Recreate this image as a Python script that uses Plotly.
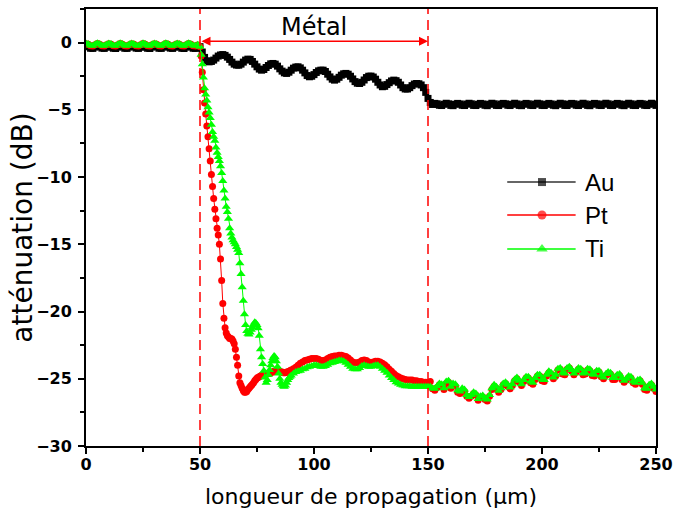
import plotly.graph_objects as go

# ---------------- data ----------------
series_names = ["Au", "Pt", "Ti"]
series_colors = ["#000000", "#ff0000", "#00ff00"]
series_symbols = ["square", "circle", "triangle-up"]

metal_start = 50
metal_end = 150
metal_label = "Métal"

# sampling grids (µm)
x_au = list(range(0, 251))
x_pt_ti = list(range(0, 50)) + [k / 2 for k in range(100, 180)] + list(range(90, 251))

au_0_49 = [-0.26, -0.31, -0.42, -0.43, -0.33, -0.25, -0.30, -0.41, -0.43, -0.34,
           -0.26, -0.30, -0.42, -0.44, -0.33, -0.25, -0.31, -0.42, -0.43, -0.33,
           -0.26, -0.30, -0.41, -0.43, -0.34, -0.25, -0.31, -0.42, -0.44, -0.33,
           -0.26, -0.30, -0.42, -0.43, -0.33, -0.25, -0.31, -0.41, -0.43, -0.34,
           -0.26, -0.30, -0.42, -0.44, -0.33, -0.25, -0.31, -0.42, -0.43, -0.35]
au_50_152 = [-0.30, -0.70, -1.10, -1.35, -1.43, -1.40, -1.30, -1.15, -1.00, -0.92,
             -0.89, -0.95, -1.08, -1.25, -1.45, -1.60, -1.67, -1.68, -1.60, -1.45,
             -1.30, -1.23, -1.25, -1.40, -1.60, -1.80, -1.97, -2.05, -2.00, -1.85,
             -1.70, -1.58, -1.55, -1.60, -1.75, -1.95, -2.12, -2.25, -2.29, -2.20,
             -2.05, -1.90, -1.82, -1.80, -1.88, -2.05, -2.25, -2.45, -2.54, -2.50,
             -2.38, -2.22, -2.10, -2.05, -2.05, -2.15, -2.35, -2.55, -2.72, -2.79,
             -2.72, -2.58, -2.42, -2.32, -2.29, -2.35, -2.50, -2.70, -2.90, -3.02,
             -3.04, -2.95, -2.78, -2.60, -2.50, -2.49, -2.56, -2.72, -2.95, -3.15,
             -3.28, -3.25, -3.12, -2.98, -2.85, -2.79, -2.83, -2.95, -3.15, -3.35,
             -3.45, -3.45, -3.35, -3.20, -3.08, -3.04, -3.06, -3.15, -3.35, -3.70,
             -4.15, -4.45, -4.60]
au_153_250 = [-4.52, -4.55, -4.66, -4.68, -4.58, -4.51, -4.55, -4.67, -4.69, -4.58,
              -4.52, -4.56, -4.66, -4.68, -4.57, -4.51, -4.55, -4.67, -4.68, -4.58,
              -4.52, -4.56, -4.66, -4.69, -4.58, -4.51, -4.55, -4.67, -4.68, -4.57,
              -4.52, -4.55, -4.66, -4.68, -4.58, -4.51, -4.56, -4.67, -4.69, -4.58,
              -4.52, -4.55, -4.66, -4.68, -4.57, -4.51, -4.55, -4.67, -4.68, -4.58,
              -4.52, -4.56, -4.66, -4.69, -4.58, -4.51, -4.55, -4.67, -4.68, -4.57,
              -4.52, -4.55, -4.66, -4.68, -4.58, -4.51, -4.56, -4.67, -4.69, -4.58,
              -4.52, -4.55, -4.66, -4.68, -4.57, -4.51, -4.55, -4.67, -4.68, -4.58,
              -4.52, -4.56, -4.66, -4.69, -4.58, -4.51, -4.55, -4.67, -4.68, -4.57,
              -4.52, -4.55, -4.66, -4.68, -4.58, -4.51, -4.56, -4.67]

pt_0_49 = [-0.08, -0.13, -0.23, -0.25, -0.15, -0.07, -0.12, -0.24, -0.25, -0.16,
           -0.08, -0.12, -0.23, -0.25, -0.15, -0.07, -0.13, -0.24, -0.25, -0.15,
           -0.08, -0.12, -0.23, -0.25, -0.16, -0.07, -0.13, -0.24, -0.26, -0.15,
           -0.08, -0.12, -0.23, -0.25, -0.15, -0.07, -0.13, -0.23, -0.25, -0.16,
           -0.08, -0.12, -0.24, -0.25, -0.15, -0.07, -0.13, -0.23, -0.25, -0.17]
pt_50_89 = [-0.30, -1.00, -2.20, -3.50, -4.50, -5.30, -6.20, -7.00, -7.90, -8.80,
            -9.80, -10.70, -11.60, -12.40, -13.10, -13.80, -14.30, -15.00, -16.10, -17.70,
            -19.40, -20.50, -21.20, -21.60, -21.80, -21.90, -22.00, -22.00, -22.05, -22.20,
            -22.40, -22.80, -23.40, -24.00, -24.80, -25.30, -25.50, -25.70, -25.90, -26.00,
            -26.00, -25.95, -25.80, -25.70, -25.60, -25.50, -25.40, -25.30, -25.15, -25.05,
            -24.95, -24.90, -24.85, -24.80, -24.75, -24.70, -24.70, -24.65, -24.65, -24.60,
            -24.60, -24.60, -24.55, -24.50, -24.50, -24.45, -24.40, -24.40, -24.40, -24.40,
            -24.45, -24.50, -24.50, -24.55, -24.55, -24.55, -24.50, -24.50, -24.45, -24.40]
pt_90_150 = [-24.35, -24.25, -24.15, -24.00, -23.85, -23.75, -23.65, -23.60, -23.55, -23.50,
             -23.50, -23.50, -23.55, -23.65, -23.65, -23.60, -23.50, -23.40, -23.35, -23.30,
             -23.30, -23.25, -23.25, -23.30, -23.35, -23.45, -23.60, -23.75, -23.80, -23.80,
             -23.75, -23.65, -23.60, -23.65, -23.75, -23.80, -23.75, -23.70, -23.70, -23.75,
             -23.85, -23.95, -24.10, -24.30, -24.45, -24.60, -24.75, -24.85, -24.95, -25.00,
             -25.05, -25.10, -25.10, -25.10, -25.15, -25.15, -25.20, -25.20, -25.25, -25.25,
             -25.30]
pt_151_250 = [-25.20, -25.75, -25.85, -25.65, -25.45, -25.50, -25.80, -25.35, -25.25, -25.70,
              -25.50, -25.55, -26.00, -26.10, -25.85, -25.95, -26.30, -26.45, -26.30, -26.10,
              -26.20, -26.60, -26.40, -26.35, -26.55, -26.65, -26.30, -25.80, -25.55, -25.70,
              -26.00, -25.80, -25.45, -25.35, -25.55, -25.75, -25.50, -25.15, -25.00, -25.25,
              -25.50, -25.20, -24.95, -24.95, -25.30, -25.40, -25.05, -24.80, -24.80, -25.15,
              -25.20, -24.80, -24.55, -24.65, -25.00, -24.80, -24.35, -24.30, -24.65, -24.70,
              -24.30, -24.20, -24.45, -24.70, -24.50, -24.30, -24.35, -24.70, -24.65, -24.35,
              -24.40, -24.75, -24.80, -24.50, -24.50, -24.85, -25.00, -24.75, -24.60, -24.65,
              -25.05, -25.05, -24.80, -24.75, -25.05, -25.25, -25.10, -24.90, -24.95, -25.30,
              -25.40, -25.20, -25.15, -25.40, -25.80, -25.85, -25.55, -25.45, -25.70, -25.95]

ti_0_49 = [-0.06, -0.11, -0.21, -0.23, -0.13, -0.05, -0.10, -0.22, -0.23, -0.14,
           -0.06, -0.10, -0.21, -0.23, -0.13, -0.05, -0.11, -0.22, -0.23, -0.13,
           -0.06, -0.10, -0.21, -0.23, -0.14, -0.05, -0.11, -0.22, -0.24, -0.13,
           -0.06, -0.10, -0.21, -0.23, -0.13, -0.05, -0.11, -0.21, -0.23, -0.14,
           -0.06, -0.10, -0.22, -0.23, -0.13, -0.05, -0.11, -0.21, -0.23, -0.15]
ti_50_89 = [-0.30, -0.90, -1.60, -2.60, -3.40, -3.85, -4.30, -4.80, -5.20, -5.60,
            -6.10, -6.65, -7.00, -7.30, -7.80, -8.20, -8.50, -8.80, -9.20, -9.70,
            -10.30, -11.00, -11.60, -12.20, -12.60, -13.10, -13.80, -14.20, -14.50, -14.70,
            -14.85, -15.00, -15.20, -15.40, -15.65, -16.40, -17.20, -18.20, -19.20, -20.20,
            -21.00, -21.45, -21.65, -21.70, -21.55, -21.35, -21.15, -20.95, -20.80, -20.85,
            -21.00, -21.25, -21.80, -22.80, -23.40, -23.90, -24.40, -24.90, -25.30, -25.10,
            -24.70, -24.35, -24.00, -23.70, -23.45, -23.30, -23.40, -23.70, -24.10, -24.60,
            -25.00, -25.30, -25.45, -25.55, -25.60, -25.50, -25.30, -25.10, -24.95, -24.85]
ti_90_150 = [-24.75, -24.60, -24.50, -24.45, -24.40, -24.30, -24.25, -24.15, -24.10, -24.05,
             -24.00, -24.00, -24.05, -24.10, -24.10, -24.05, -23.95, -23.85, -23.80, -23.75,
             -23.70, -23.65, -23.65, -23.70, -23.80, -23.95, -24.10, -24.25, -24.30, -24.30,
             -24.20, -24.05, -24.00, -24.05, -24.10, -24.10, -24.05, -24.00, -24.00, -24.10,
             -24.25, -24.40, -24.55, -24.75, -24.95, -25.10, -25.25, -25.35, -25.45, -25.50,
             -25.55, -25.55, -25.55, -25.60, -25.60, -25.60, -25.60, -25.60, -25.60, -25.60,
             -25.60]
ti_151_250 = [-25.60, -25.70, -25.75, -25.55, -25.35, -25.40, -25.70, -25.20, -25.15, -25.60,
              -25.35, -25.40, -25.85, -25.95, -25.70, -25.80, -26.20, -26.35, -26.20, -26.00,
              -26.10, -26.50, -26.30, -26.25, -26.45, -26.55, -26.20, -25.70, -25.45, -25.60,
              -25.90, -25.70, -25.35, -25.25, -25.45, -25.65, -25.40, -25.05, -24.90, -25.15,
              -25.40, -25.10, -24.85, -24.85, -25.20, -25.30, -24.95, -24.70, -24.70, -25.05,
              -25.10, -24.70, -24.45, -24.55, -24.90, -24.70, -24.25, -24.20, -24.55, -24.60,
              -24.20, -24.10, -24.35, -24.60, -24.40, -24.20, -24.25, -24.60, -24.55, -24.25,
              -24.30, -24.65, -24.70, -24.40, -24.40, -24.75, -24.90, -24.65, -24.50, -24.55,
              -24.95, -24.95, -24.70, -24.65, -24.95, -25.15, -25.00, -24.80, -24.85, -25.20,
              -25.30, -25.10, -25.05, -25.30, -25.70, -25.75, -25.45, -25.35, -25.60, -25.80]

au_db = au_0_49 + au_50_152 + au_153_250
pt_db = pt_0_49 + pt_50_89 + pt_90_150 + pt_151_250
ti_db = ti_0_49 + ti_50_89 + ti_90_150 + ti_151_250

x_title = "longueur de propagation (µm)"
y_title = "atténuation (dB)"

# ---------------- figure ----------------
fig = go.Figure()
xs = [x_au, x_pt_ti, x_pt_ti]
ys = [au_db, pt_db, ti_db]
msizes = [7, 7, 8]
for name, col, sym, xx, yy, ms in zip(series_names, series_colors, series_symbols, xs, ys, msizes):
    fig.add_trace(go.Scatter(
        x=xx, y=yy, name=name, mode="lines+markers",
        line=dict(color=col, width=1),
        marker=dict(symbol=sym, size=ms, color=col, line=dict(width=0)),
        showlegend=False,
    ))

# custom legend (long sample lines, as in the original) on an overlay [0,1] axis pair
leg_x = [0.739, 0.800, 0.859]
leg_y = [0.604, 0.5285, 0.451]
leg_msize = [8, 9, 10]
for name, col, sym, ly, ms in zip(series_names, series_colors, series_symbols, leg_y, leg_msize):
    fig.add_trace(go.Scatter(
        x=leg_x, y=[ly] * 3, xaxis="x2", yaxis="y2", mode="lines+markers",
        line=dict(color=col if col != "#000000" else "#333333", width=1.5),
        marker=dict(symbol=sym, size=[0, ms, 0], color=col, line=dict(width=0)),
        showlegend=False, hoverinfo="skip", cliponaxis=False,
    ))
    fig.add_annotation(x=0.872, y=ly, xref="paper", yref="paper", text=name,
                       showarrow=False, xanchor="left", yanchor="middle",
                       font=dict(family="Liberation Sans, Arial", size=24, color="black"))

# metal region: dashed bounds, double arrow and label
for xv in (metal_start, metal_end):
    fig.add_shape(type="line", x0=xv, x1=xv, y0=0, y1=1, xref="x", yref="paper",
                  line=dict(color="#ff0000", width=1.5, dash="10px,6px"))
fig.add_annotation(x=metal_end, y=0.1, ax=metal_start, ay=0.1, xref="x", yref="y",
                   axref="x", ayref="y", text="", showarrow=True,
                   arrowhead=2, startarrowhead=2, arrowside="end+start",
                   arrowsize=1.2, startarrowsize=1.2, arrowwidth=1.5, arrowcolor="#ff0000",
                   standoff=0, startstandoff=0)
fig.add_annotation(x=(metal_start + metal_end) / 2, y=1.15, xref="x", yref="y",
                   text=metal_label, showarrow=False, yanchor="middle",
                   font=dict(family="DejaVu Sans", size=24, color="black"))

# axis titles placed as annotations for exact positioning
fig.add_annotation(x=0.5, y=-0.116, xref="paper", yref="paper", text=x_title,
                   showarrow=False, xanchor="center", yanchor="middle",
                   font=dict(family="DejaVu Sans", size=22, color="black"))
fig.add_annotation(x=-0.112, y=0.5, xref="paper", yref="paper", text=y_title,
                   showarrow=False, xanchor="center", yanchor="middle", textangle=-90,
                   font=dict(family="DejaVu Sans", size=28, color="black"))

tickfont = dict(family="DejaVu Sans", size=16, color="black", weight="bold")
axis_common = dict(showgrid=False, zeroline=False, showline=True, linecolor="black",
                   linewidth=2, mirror=True, ticks="outside", ticklen=6, tickwidth=2,
                   tickcolor="black", tickfont=tickfont)

fig.update_layout(
    width=680, height=510,
    margin=dict(l=86, r=20, t=7, b=64),
    paper_bgcolor="white", plot_bgcolor="white",
    xaxis=dict(range=[0, 250], tick0=0, dtick=50, ticklabelstandoff=-3,
               minor=dict(dtick=25, ticks="outside", ticklen=4, tickwidth=2, tickcolor="black"),
               **axis_common),
    yaxis=dict(range=[-30, 2.5], tick0=0, dtick=5, ticklabelstandoff=3,
               minor=dict(dtick=2.5, ticks="outside", ticklen=4, tickwidth=2, tickcolor="black"),
               **axis_common),
    xaxis2=dict(overlaying="x", range=[0, 1], visible=False, anchor="y2"),
    yaxis2=dict(overlaying="y", range=[0, 1], visible=False, anchor="x2"),
    showlegend=False,
)

fig.write_html("out.html", config={"displayModeBar": False},
               post_script="document.body.style.margin='0';document.body.style.overflow='hidden';")
